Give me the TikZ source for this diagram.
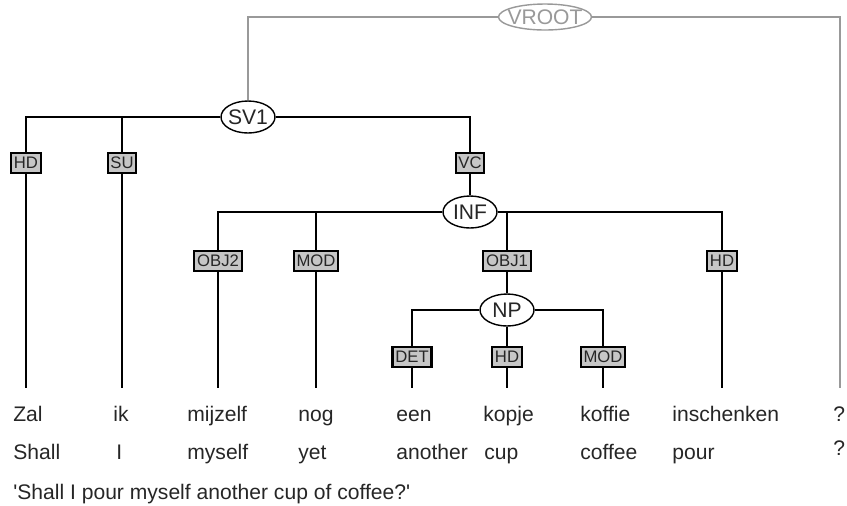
\documentclass[tikz,border=0pt]{standalone}
\usepackage{fontspec}
\setmainfont{Liberation Sans}
\usetikzlibrary{positioning,shapes.geometric}

\begin{document}
\begin{tikzpicture}[
  x=0.02cm, y=-0.02cm,
  font=\fontsize{12}{14}\selectfont,
  cat/.style={draw, ellipse, line width=0.8pt, fill=white, inner sep=0pt,
              minimum width=1.08cm, minimum height=0.64cm, text=black!85},
  fn/.style={draw, line width=1.2pt, fill=gray!45, text=black!85,
             font=\fontsize{9.5}{10}\selectfont, inner xsep=1.6pt, inner ysep=0pt,
             minimum height=0.4cm},
  br/.style={line width=1.1pt},
  gr/.style={line width=0.8pt, color=gray!80},
  wd/.style={anchor=base west, inner sep=0pt, text=black!85},
]
\useasboundingbox (0,0) rectangle (847,505);

% categories
\node[cat, draw=gray!80, text=gray!80, minimum width=1.86cm, minimum height=0.52cm]
      (vroot) at (545,17) {\makebox[0pt]{VROOT}};
\node[cat] (sv1) at (248,117) {\makebox[0pt]{SV1}};
\node[cat] (inf) at (470,212) {\makebox[0pt]{INF}};
\node[cat] (np)  at (507,310) {\makebox[0pt]{NP}};

% function labels
\node[fn] (hd1)  at (26,163)  {HD};
\node[fn] (su)   at (122,163) {SU};
\node[fn] (vc)   at (470,163) {VC};
\node[fn] (obj2) at (218,261) {OBJ2};
\node[fn] (mod1) at (316,261) {MOD};
\node[fn] (obj1) at (507,261) {OBJ1};
\node[fn] (hd2)  at (722,261) {HD};
\node[fn] (det)  at (412,357) {DET};
\node[fn] (hd3)  at (507,357) {HD};
\node[fn] (mod2) at (603,357) {MOD};

% leaf ends
\coordinate (t1) at (26,388);
\coordinate (t2) at (122,388);
\coordinate (t3) at (218,388);
\coordinate (t4) at (316,388);
\coordinate (t5) at (412,388);
\coordinate (t6) at (507,388);
\coordinate (t7) at (603,388);
\coordinate (t8) at (722,388);
\coordinate (t9) at (840,388);

\draw[gr] (vroot.west) -| (sv1.north);
\draw[gr] (vroot.east) -| (t9);

\draw[br] (sv1.west) -| (hd1.north);
\draw[br] (sv1.west) -| (su.north);
\draw[br] (sv1.east) -| (vc.north);
\draw[br] (vc) -- (inf);
\draw[br] (inf.west) -| (obj2.north);
\draw[br] (inf.west) -| (mod1.north);
\draw[br] (inf.east) -| (obj1.north);
\draw[br] (inf.east) -| (hd2.north);
\draw[br] (obj1) -- (np);
\draw[br] (np.west) -| (det.north);
\draw[br] (np) -- (hd3);
\draw[br] (np.east) -| (mod2.north);

\draw[br] (hd1) -- (t1);
\draw[br] (su) -- (t2);
\draw[br] (obj2) -- (t3);
\draw[br] (mod1) -- (t4);
\draw[br] (det) -- (t5);
\draw[br] (hd3) -- (t6);
\draw[br] (mod2) -- (t7);
\draw[br] (hd2) -- (t8);

% words
\node[wd] (w1) at (13,421)  {Zal};
\node[wd] (w2) at (113,421) {ik};
\node[wd] (w3) at (187,421) {mijzelf};
\node[wd] (w4) at (298,421) {nog};
\node[wd] (w5) at (396,421) {een};
\node[wd] (w6) at (483,421) {kopje};
\node[wd] (w7) at (580,421) {koffie};
\node[wd] (w8) at (672,421) {inschenken};
\node[wd] (w9) at (833,421) {?};

\node[wd] (g1) at (13,459)  {Shall};
\node[wd] (g2) at (116,459) {I};
\node[wd] (g3) at (187,459) {myself};
\node[wd] (g4) at (298,459) {yet};
\node[wd] (g5) at (396,459) {another};
\node[wd] (g6) at (484,459) {cup};
\node[wd] (g7) at (580,459) {coffee};
\node[wd] (g8) at (672,459) {pour};
\node[wd] (g9) at (833,455) {?};

\node[wd] (tr) at (13,499) {\textquotesingle Shall I pour myself another cup of coffee?\textquotesingle};
\end{tikzpicture}
\end{document}
